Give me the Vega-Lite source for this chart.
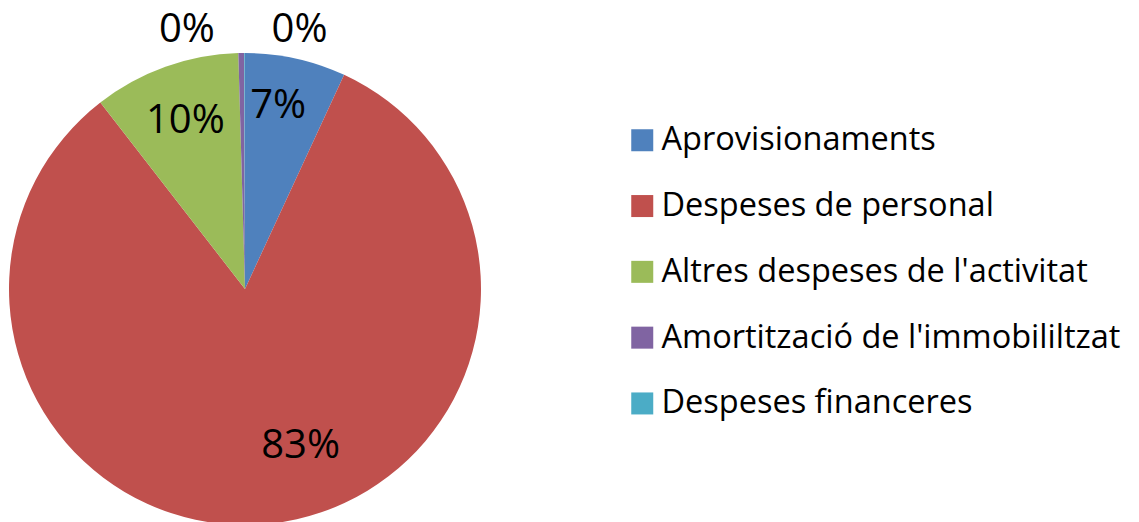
{
  "$schema": "https://vega.github.io/schema/vega-lite/v6.json",
  "width": 490,
  "height": 578,
  "autosize": "none",
  "padding": {"left": 0, "top": 0, "right": 649, "bottom": 0},
  "background": "white",
  "data": {
    "values": [
      {"cat": "Aprovisionaments", "ord": 1, "share": 0.069},
      {"cat": "Despeses de personal", "ord": 2, "share": 0.826},
      {"cat": "Altres despeses de l'activitat", "ord": 3, "share": 0.1005},
      {"cat": "Amortització de l'immobililtzat", "ord": 4, "share": 0.004},
      {"cat": "Despeses financeres", "ord": 5, "share": 0.0005}
    ]
  },
  "encoding": {
    "theta": {"field": "share", "type": "quantitative", "stack": true},
    "order": {"field": "ord", "type": "quantitative"}
  },
  "layer": [
    {
      "mark": {"type": "arc", "outerRadius": 236},
      "encoding": {
        "color": {
          "field": "cat",
          "type": "nominal",
          "scale": {
            "domain": ["Aprovisionaments", "Despeses de personal", "Altres despeses de l'activitat", "Amortització de l'immobililtzat", "Despeses financeres"],
            "range": ["#4F81BD", "#C0504D", "#9BBB59", "#8064A2", "#4BACC6"]
          },
          "legend": {
            "title": null,
            "orient": "none",
            "legendX": 626,
            "legendY": 124,
            "padding": 0,
            "symbolType": "square",
            "symbolSize": 484,
            "symbolStrokeWidth": 0,
            "symbolOpacity": 1,
            "labelFont": "Open Sans",
            "labelFontSize": 32.5,
            "labelColor": "black",
            "labelOffset": 3,
            "labelLimit": 600,
            "rowPadding": 32.8
          }
        }
      }
    },
    {
      "mark": {"type": "text", "radius": 187, "dx": -7, "font": "Open Sans", "fontSize": 40, "color": "black"},
      "encoding": {
        "text": {"field": "share", "type": "quantitative", "format": ".0%"},
        "opacity": {"condition": {"test": "datum.ord == 1", "value": 1}, "value": 0}
      }
    },
    {
      "mark": {"type": "text", "radius": 165, "dx": 37, "dy": -7, "font": "Open Sans", "fontSize": 40, "color": "black"},
      "encoding": {
        "text": {"field": "share", "type": "quantitative", "format": ".0%"},
        "opacity": {"condition": {"test": "datum.ord == 2", "value": 1}, "value": 0}
      }
    },
    {
      "mark": {"type": "text", "radius": 180, "dx": 1, "dy": 1, "font": "Open Sans", "fontSize": 40, "color": "black"},
      "encoding": {
        "text": {"field": "share", "type": "quantitative", "format": ".0%"},
        "opacity": {"condition": {"test": "datum.ord == 3", "value": 1}, "value": 0}
      }
    },
    {
      "mark": {"type": "text", "radius": 259, "dx": -54, "font": "Open Sans", "fontSize": 40, "color": "black"},
      "encoding": {
        "text": {"field": "share", "type": "quantitative", "format": ".0%"},
        "opacity": {"condition": {"test": "datum.ord == 4", "value": 1}, "value": 0}
      }
    },
    {
      "mark": {"type": "text", "radius": 259, "dx": 55, "font": "Open Sans", "fontSize": 40, "color": "black"},
      "encoding": {
        "text": {"field": "share", "type": "quantitative", "format": ".0%"},
        "opacity": {"condition": {"test": "datum.ord == 5", "value": 1}, "value": 0}
      }
    }
  ],
  "config": {"view": {"stroke": null}}
}
